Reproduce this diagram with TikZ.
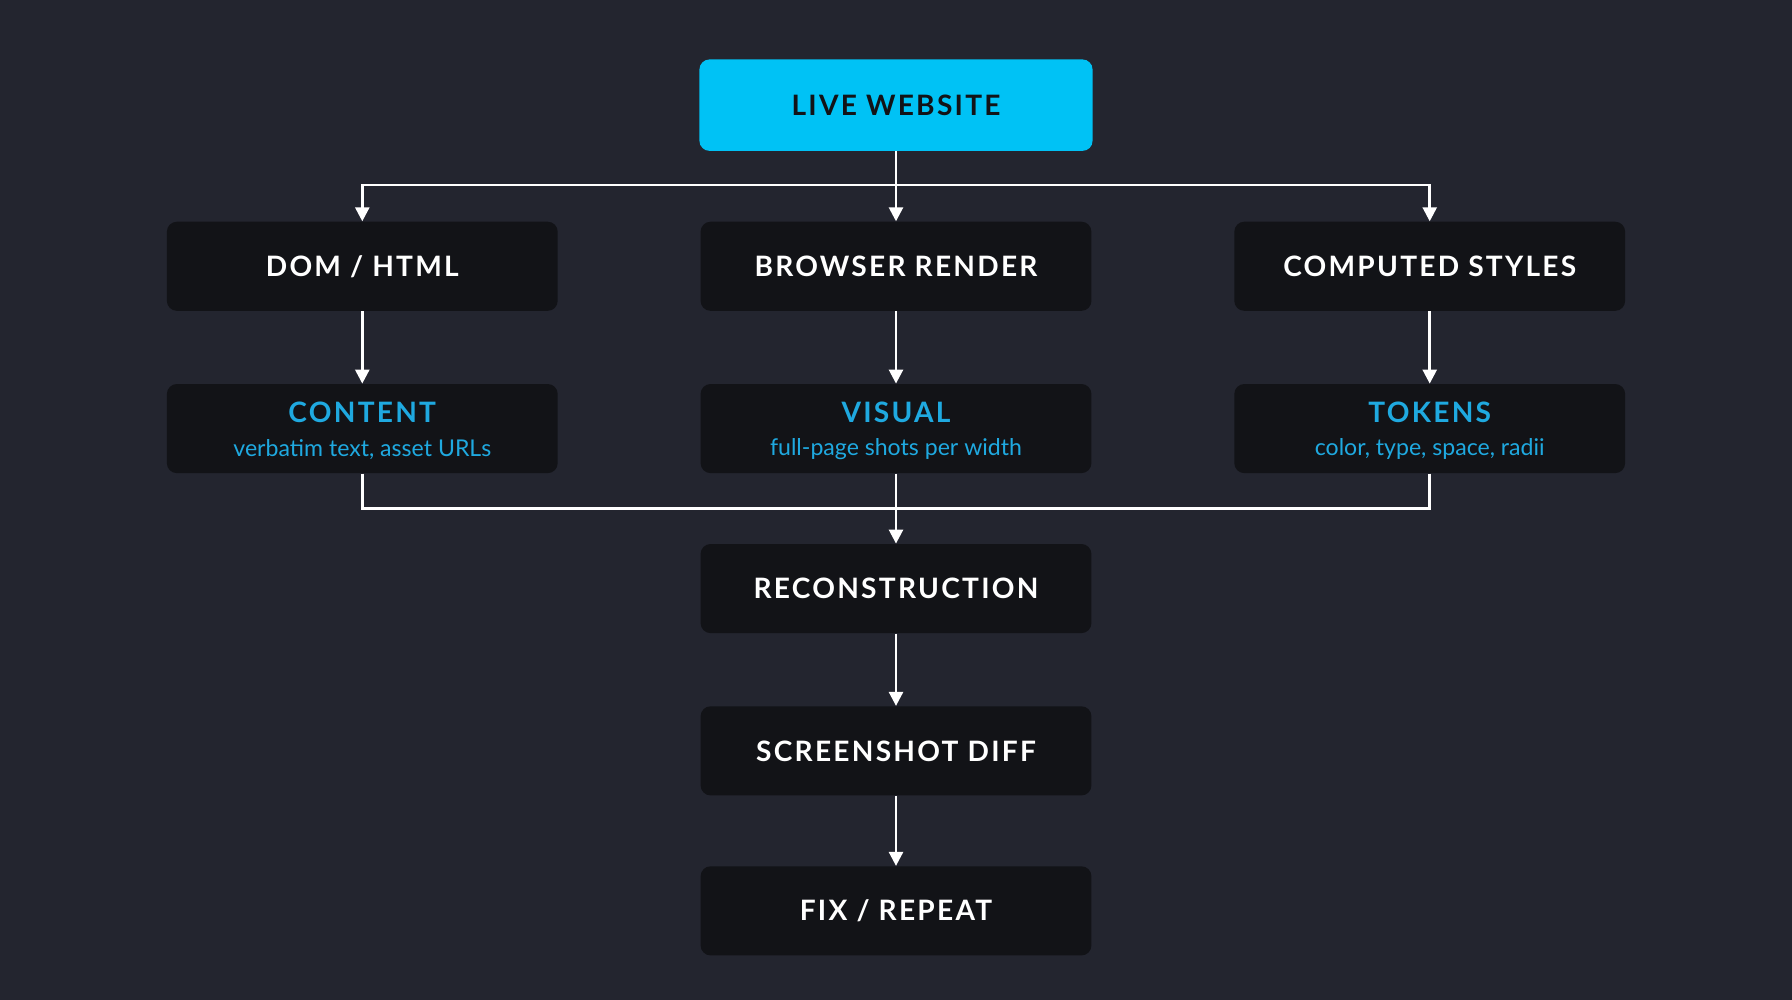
\documentclass[tikz,border=0pt]{standalone}
\usepackage{fontspec}
\setmainfont{Lato}
\usetikzlibrary{arrows.meta}
\definecolor{bg}{HTML}{23252F}
\definecolor{box}{HTML}{121317}
\definecolor{cy}{HTML}{00C2F5}
\definecolor{cyt}{HTML}{1FA9E0}
\newfontfamily\capsf[LetterSpace=8]{Lato}
\begin{document}
\begin{tikzpicture}[x=0.02cm,y=-0.02cm,
  bx/.style={fill=box,rounded corners=5pt,minimum width=342*0.02cm,minimum height=78*0.02cm,inner sep=0pt,text=white,font=\capsf\bfseries\fontsize{14}{16}\selectfont,align=center},
  ln/.style={draw=white,line width=1.3pt},
  ar/.style={ln,-{Triangle[width=7pt,length=7pt]}}]
\fill[bg] (0,0) rectangle (1568,875);
\useasboundingbox (0,0) rectangle (1568,875);
\node[bx,fill=cy,text=box,minimum width=344*0.02cm,minimum height=80*0.02cm] (live) at (784,92) {LIVE WEBSITE};
\node[bx] (dom) at (317,233) {DOM / HTML};
\node[bx] (br) at (784,233) {BROWSER RENDER};
\node[bx] (cs) at (1251,233) {COMPUTED STYLES};
\node[bx] (con) at (317,375) {};
\node[bx] (vis) at (784,375) {};
\node[bx] (tok) at (1251,375) {};
\foreach \n/\t/\s in {con/CONTENT/{verbatim text, asset URLs},vis/VISUAL/{full-page shots per width},tok/TOKENS/{color, type, space, radii}}{
  \node[text=cyt,font=\capsf\bfseries\fontsize{14}{16}\selectfont] (\n t) at ([yshift=14*0.02cm]\n.center) {\t};
  \node[text=cyt,font=\fontsize{11.5}{13}\selectfont] (\n s) at ([yshift=-18*0.02cm]\n.center) {\s};
}
\node[bx] (rec) at (784,515) {RECONSTRUCTION};
\node[bx] (sd) at (784,657) {SCREENSHOT DIFF};
\node[bx] (fix) at (784,797) {FIX / REPEAT};
\coordinate (b1) at (784,162);
\coordinate (b2) at (784,445);
\draw[ln] (live.south) -- (b1);
\draw[ar] (b1) -- (br.north);
\draw[ar] (b1) -| (dom.north);
\draw[ar] (b1) -| (cs.north);
\draw[ar] (dom) -- (con);
\draw[ar] (br) -- (vis);
\draw[ar] (cs) -- (tok);
\draw[ln] (con.south) |- (b2);
\draw[ln] (tok.south) |- (b2);
\draw[ln] (vis.south) -- (b2);
\draw[ar] (b2) -- (rec.north);
\draw[ar] (rec) -- (sd);
\draw[ar] (sd) -- (fix);
\end{tikzpicture}
\end{document}
